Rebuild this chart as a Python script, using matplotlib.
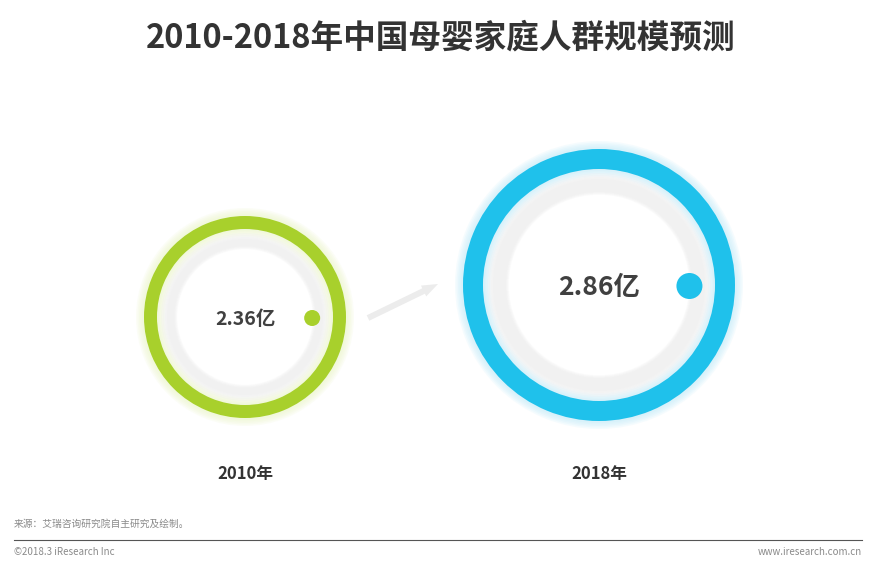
import matplotlib.pyplot as plt
import matplotlib.patches as patches

plt.rcParams['font.family'] = ['Noto Sans CJK SC', 'DejaVu Sans']

title = '2010-2018年中国母婴家庭人群规模预测'
years = ['2010年', '2018年']
values = [2.36, 2.86]
unit = '亿'
source = '来源：艾瑞咨询研究院自主研究及绘制。'

# layout (pixels)
centers = [(245, 317), (599, 285)]
outer_r = [101, 136]
ring_w = [13, 20]
colors = ['#a8d02c', '#1fc1eb']
glows = ['#eaf5c4', '#bdeafa']
dot_r = [8, 13]
font_sz = [14, 19]

fig = plt.figure(figsize=(8.78, 5.69), dpi=100)
ax = fig.add_axes([0, 0, 1, 1])
ax.set_xlim(0, 878)
ax.set_ylim(569, 0)
ax.set_aspect('equal')
ax.axis('off')

for i in range(len(values)):
    cx, cy = centers[i]
    R = outer_r[i]
    w = ring_w[i]
    # soft glow around the ring
    for k in range(5):
        g = patches.Wedge((cx, cy), R + 2 + k * 1.5, 0, 360, width=w + 4 + k * 3,
                          facecolor=glows[i], edgecolor='none', alpha=0.15)
        ax.add_patch(g)
    ring = patches.Wedge((cx, cy), R, 0, 360, width=w, facecolor=colors[i], edgecolor='none')
    ax.add_patch(ring)
    # inner light gray ring, soft
    for k in range(4):
        inner = patches.Wedge((cx, cy), R - w - 4 - k * 2, 0, 360, width=R * 0.16 - k * 3,
                              facecolor='#ececec', edgecolor='none', alpha=0.22)
        ax.add_patch(inner)
    ax.add_patch(patches.Circle((cx + R * 0.665, cy + 1), dot_r[i], facecolor=colors[i], edgecolor='none'))
    ax.text(cx, cy + 2, f'{values[i]:.2f}{unit}', ha='center', va='center',
            fontsize=font_sz[i], fontweight='bold', color='#404040')
    ax.text(cx, 474, years[i], ha='center', va='center', fontsize=12,
            fontweight='bold', color='#333333')

# faint arrow between circles
arr = patches.FancyArrow(368, 318, 70, -34, width=6, head_width=12, head_length=16,
                         length_includes_head=True, facecolor='#ececec', edgecolor='none')
ax.add_patch(arr)

ax.text(441, 38, title, ha='center', va='center', fontsize=23.5, fontweight='bold', color='#333333')

ax.text(14, 524, source, ha='left', va='center', fontsize=7, color='#8a8a8a')
ax.plot([14, 862], [540, 540], color='#555555', lw=0.8)
ax.text(14, 552, '©2018.3 iResearch Inc', ha='left', va='center', fontsize=7, color='#8a8a8a')
ax.text(862, 552, 'www.iresearch.com.cn', ha='right', va='center', fontsize=7, color='#8a8a8a')

fig.savefig('out.png', dpi=100, facecolor='white')
